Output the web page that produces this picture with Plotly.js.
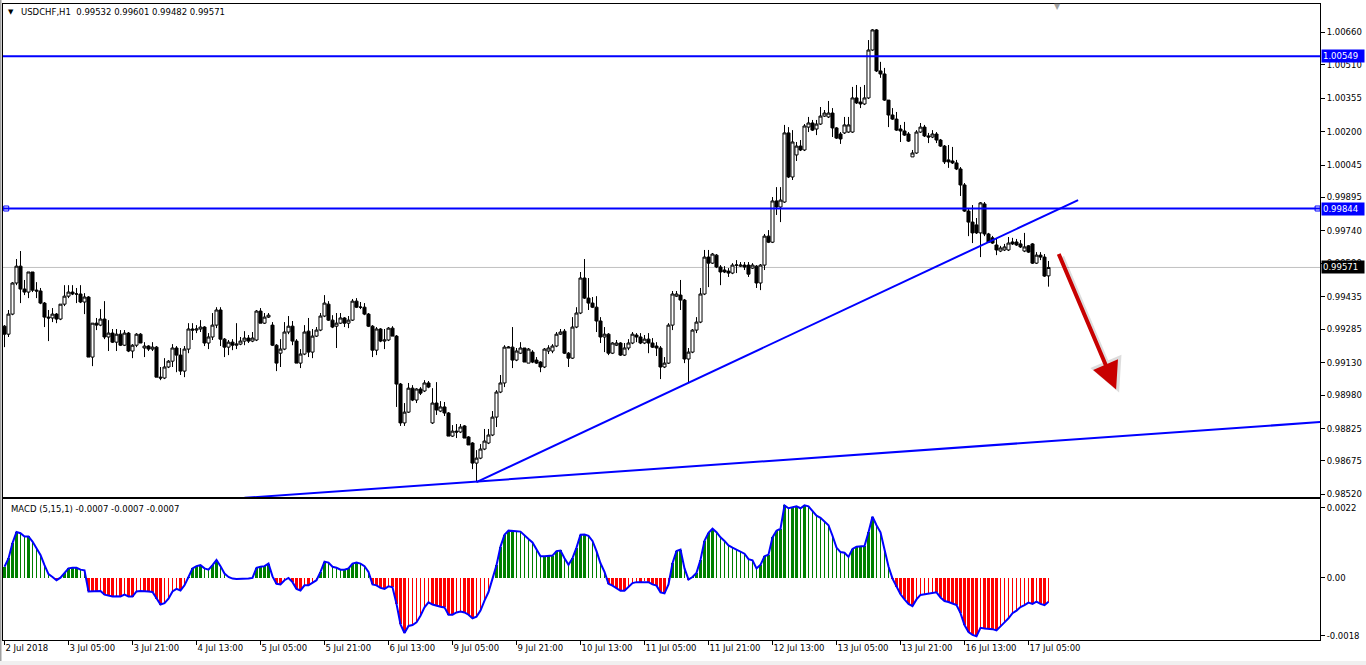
<!DOCTYPE html>
<html><head><meta charset="utf-8">
<script src="https://cdn.plot.ly/plotly-3.0.1.min.js"></script>
<style>html,body{margin:0;padding:0;background:#fff;overflow:hidden}#chart{width:1366px;height:665px}</style>
</head><body><div id="chart"></div>
<script>
// ---------------- DATA ----------------
const symbol = 'USDCHF,H1';
const tickBars = [0,16,32,48,64,80,96,112,128,144,160,176,192,208,224,240,256];
const tickLabels = ['2 Jul 2018','3 Jul 05:00','3 Jul 21:00','4 Jul 13:00','5 Jul 05:00','5 Jul 21:00','6 Jul 13:00','9 Jul 05:00','9 Jul 21:00','10 Jul 13:00','11 Jul 05:00','11 Jul 21:00','12 Jul 13:00','13 Jul 05:00','13 Jul 21:00','16 Jul 13:00','17 Jul 05:00'];
const priceTicks = [1.00660,1.00510,1.00355,1.00200,1.00045,0.99895,0.99740,0.99590,0.99435,0.99285,0.99130,0.98980,0.98825,0.98675,0.98520];
const macdTicks = [0.0022, 0, -0.0018];
const macdTickText = ['0.0022','0.00','-0.0018'];

const open = [
0.99299,0.99262,0.99355,0.99499,0.99577,0.99471,0.99457,0.99550,0.99466,0.99462,
0.99406,0.99341,0.99337,0.99355,0.99332,0.99401,0.99438,0.99457,0.99448,0.99448,
0.99411,0.99434,0.99156,0.99313,0.99304,0.99332,0.99249,0.99267,0.99225,0.99262,
0.99211,0.99267,0.99184,0.99211,0.99262,0.99198,0.99207,0.99193,0.99202,0.99063,
0.99059,0.99110,0.99137,0.99198,0.99165,0.99091,0.99193,0.99286,0.99281,0.99286,
0.99295,0.99221,0.99249,0.99304,0.99374,0.99239,0.99202,0.99225,0.99211,0.99216,
0.99230,0.99244,0.99230,0.99235,0.99369,0.99313,0.99341,0.99304,0.99211,0.99174,
0.99193,0.99272,0.99299,0.99230,0.99128,0.99170,0.99276,0.99179,0.99253,0.99281,
0.99346,0.99401,0.99327,0.99299,0.99313,0.99337,0.99313,0.99327,0.99415,0.99387,
0.99387,0.99355,0.99299,0.99188,0.99286,0.99230,0.99235,0.99290,0.99253,0.99031,
0.98851,0.98901,0.99012,0.98957,0.99008,0.98999,0.99036,0.98851,0.98943,0.98906,
0.98925,0.98897,0.98790,0.98813,0.98809,0.98837,0.98786,0.98758,0.98665,0.98688,
0.98730,0.98758,0.98795,0.98878,0.98994,0.99036,0.99198,0.99202,0.99142,0.99174,
0.99198,0.99128,0.99179,0.99142,0.99133,0.99110,0.99184,0.99184,0.99207,0.99262,
0.99276,0.99174,0.99151,0.99295,0.99360,0.99522,0.99429,0.99406,0.99387,0.99323,
0.99249,0.99262,0.99174,0.99211,0.99221,0.99165,0.99198,0.99221,0.99258,0.99249,
0.99221,0.99239,0.99221,0.99207,0.99198,0.99110,0.99128,0.99304,0.99438,0.99443,
0.99420,0.99147,0.99179,0.99281,0.99318,0.99448,0.99619,0.99591,0.99628,0.99573,
0.99559,0.99554,0.99545,0.99582,0.99577,0.99582,0.99582,0.99568,0.99577,0.99499,
0.99582,0.99716,0.99688,0.99879,0.99851,0.99874,1.00194,0.99990,1.00092,1.00133,
1.00115,1.00221,1.00240,1.00212,1.00235,1.00272,1.00268,1.00286,1.00217,1.00189,
1.00194,1.00198,1.00198,1.00356,1.00337,1.00328,1.00356,1.00578,1.00671,1.00481,
1.00467,1.00346,1.00277,1.00258,1.00212,1.00203,1.00189,1.00083,1.00101,1.00198,
1.00221,1.00180,1.00175,1.00189,1.00161,1.00133,1.00069,1.00064,1.00055,1.00027,
0.99953,0.99832,0.99781,0.99768,0.99731,0.99865,0.99726,0.99708,0.99675,0.99647,
0.99652,0.99652,0.99689,0.99689,0.99680,0.99647,0.99671,0.99680,0.99591,0.99628,
0.99619,0.99532];
const high = [
0.99304,0.99374,0.99503,0.99610,0.99647,0.99513,0.99550,0.99550,0.99503,0.99476,
0.99411,0.99374,0.99383,0.99360,0.99401,0.99489,0.99489,0.99489,0.99476,0.99489,
0.99452,0.99438,0.99313,0.99337,0.99378,0.99415,0.99327,0.99286,0.99286,0.99281,
0.99281,0.99272,0.99216,0.99267,0.99267,0.99225,0.99211,0.99225,0.99207,0.99110,
0.99151,0.99142,0.99216,0.99207,0.99198,0.99207,0.99313,0.99313,0.99304,0.99327,
0.99299,0.99267,0.99360,0.99387,0.99387,0.99244,0.99235,0.99239,0.99313,0.99249,
0.99276,0.99258,0.99272,0.99374,0.99383,0.99360,0.99360,0.99318,0.99216,0.99239,
0.99318,0.99346,0.99323,0.99239,0.99193,0.99304,0.99337,0.99286,0.99295,0.99360,
0.99443,0.99415,0.99350,0.99360,0.99360,0.99341,0.99346,0.99425,0.99429,0.99411,
0.99406,0.99360,0.99304,0.99295,0.99290,0.99286,0.99295,0.99299,0.99258,0.99036,
0.98943,0.99036,0.99026,0.99012,0.99017,0.99049,0.99045,0.99012,0.99040,0.98952,
0.98948,0.98901,0.98841,0.98846,0.98846,0.98841,0.98790,0.98762,0.98725,0.98753,
0.98823,0.98823,0.98906,0.99003,0.99073,0.99211,0.99207,0.99295,0.99198,0.99225,
0.99198,0.99198,0.99188,0.99156,0.99137,0.99198,0.99211,0.99216,0.99272,0.99286,
0.99286,0.99179,0.99341,0.99387,0.99550,0.99610,0.99522,0.99434,0.99438,0.99341,
0.99295,0.99267,0.99225,0.99235,0.99225,0.99221,0.99239,0.99272,0.99267,0.99267,
0.99258,0.99267,0.99244,0.99225,0.99207,0.99156,0.99313,0.99462,0.99462,0.99513,
0.99425,0.99198,0.99286,0.99341,0.99476,0.99652,0.99652,0.99638,0.99633,0.99582,
0.99577,0.99568,0.99591,0.99605,0.99596,0.99596,0.99596,0.99591,0.99582,0.99587,
0.99726,0.99744,0.99897,0.99943,0.99943,1.00231,1.00221,1.00207,1.00152,1.00161,
1.00235,1.00268,1.00254,1.00254,1.00314,1.00300,1.00342,1.00309,1.00221,1.00198,
1.00268,1.00268,1.00407,1.00416,1.00407,1.00416,1.00624,1.00675,1.00675,1.00523,
1.00495,1.00346,1.00309,1.00291,1.00231,1.00245,1.00198,1.00115,1.00207,1.00240,
1.00231,1.00194,1.00207,1.00198,1.00166,1.00138,1.00138,1.00129,1.00069,1.00036,
0.99962,0.99846,0.99860,0.99800,0.99874,0.99874,0.99731,0.99717,0.99703,0.99671,
0.99680,0.99712,0.99708,0.99703,0.99698,0.99731,0.99675,0.99684,0.99642,0.99642,
0.99633,0.99601];
const low = [
0.99202,0.99249,0.99350,0.99489,0.99406,0.99443,0.99429,0.99457,0.99429,0.99401,
0.99295,0.99230,0.99318,0.99313,0.99327,0.99392,0.99429,0.99443,0.99406,0.99406,
0.99355,0.99156,0.99114,0.99281,0.99299,0.99239,0.99184,0.99221,0.99184,0.99207,
0.99207,0.99179,0.99151,0.99202,0.99221,0.99156,0.99184,0.99184,0.99063,0.99049,
0.99054,0.99105,0.99110,0.99086,0.99073,0.99063,0.99174,0.99235,0.99267,0.99272,
0.99207,0.99193,0.99235,0.99290,0.99207,0.99156,0.99165,0.99188,0.99193,0.99211,
0.99211,0.99221,0.99225,0.99230,0.99313,0.99309,0.99337,0.99207,0.99091,0.99110,
0.99188,0.99262,0.99211,0.99128,0.99105,0.99165,0.99156,0.99151,0.99249,0.99276,
0.99341,0.99323,0.99290,0.99198,0.99309,0.99295,0.99290,0.99323,0.99383,0.99378,
0.99350,0.99295,0.99156,0.99165,0.99225,0.99193,0.99230,0.99253,0.98925,0.98837,
0.98837,0.98897,0.98952,0.98943,0.98980,0.98994,0.99012,0.98846,0.98888,0.98901,
0.98883,0.98790,0.98786,0.98781,0.98804,0.98781,0.98749,0.98637,0.98577,0.98683,
0.98725,0.98753,0.98790,0.98832,0.98989,0.99017,0.99198,0.99105,0.99137,0.99170,
0.99133,0.99128,0.99128,0.99124,0.99086,0.99105,0.99170,0.99174,0.99202,0.99258,
0.99170,0.99110,0.99147,0.99290,0.99355,0.99425,0.99374,0.99383,0.99272,0.99221,
0.99179,0.99165,0.99170,0.99207,0.99161,0.99161,0.99188,0.99216,0.99225,0.99216,
0.99216,0.99174,0.99198,0.99161,0.99054,0.99105,0.99124,0.99281,0.99434,0.99374,
0.99128,0.99036,0.99174,0.99267,0.99313,0.99443,0.99480,0.99587,0.99568,0.99489,
0.99545,0.99527,0.99540,0.99545,0.99573,0.99559,0.99527,0.99564,0.99476,0.99466,
0.99559,0.99684,0.99684,0.99814,0.99781,0.99870,0.99985,0.99976,1.00064,1.00110,
1.00110,1.00198,1.00203,1.00184,1.00231,1.00268,1.00263,1.00175,1.00166,1.00143,
1.00189,1.00194,1.00194,1.00328,1.00309,1.00323,1.00351,1.00574,1.00476,1.00449,
1.00342,1.00221,1.00254,1.00203,1.00152,1.00180,1.00152,1.00083,1.00097,1.00194,
1.00175,1.00147,1.00170,1.00147,1.00129,1.00050,1.00032,1.00050,1.00022,0.99902,
0.99828,0.99716,0.99684,0.99726,0.99619,0.99716,0.99684,0.99680,0.99628,0.99642,
0.99647,0.99647,0.99675,0.99671,0.99661,0.99642,0.99638,0.99587,0.99587,0.99605,
0.99527,0.99482];
const close = [
0.99262,0.99355,0.99499,0.99577,0.99471,0.99457,0.99550,0.99466,0.99462,0.99406,
0.99341,0.99337,0.99355,0.99332,0.99401,0.99438,0.99457,0.99448,0.99448,0.99411,
0.99434,0.99156,0.99313,0.99304,0.99332,0.99249,0.99267,0.99225,0.99262,0.99211,
0.99267,0.99184,0.99211,0.99262,0.99221,0.99207,0.99193,0.99202,0.99063,0.99059,
0.99110,0.99137,0.99198,0.99165,0.99091,0.99193,0.99286,0.99281,0.99286,0.99295,
0.99221,0.99249,0.99304,0.99374,0.99239,0.99202,0.99225,0.99211,0.99216,0.99230,
0.99244,0.99230,0.99244,0.99369,0.99313,0.99341,0.99350,0.99211,0.99128,0.99193,
0.99272,0.99299,0.99230,0.99128,0.99170,0.99272,0.99179,0.99253,0.99281,0.99346,
0.99406,0.99327,0.99295,0.99313,0.99337,0.99313,0.99327,0.99415,0.99387,0.99387,
0.99355,0.99299,0.99188,0.99286,0.99230,0.99235,0.99290,0.99253,0.99031,0.98851,
0.98901,0.99012,0.98957,0.99008,0.98989,0.99036,0.99017,0.98943,0.98911,0.98925,
0.98897,0.98790,0.98813,0.98809,0.98832,0.98781,0.98749,0.98665,0.98688,0.98730,
0.98767,0.98795,0.98878,0.98994,0.99036,0.99202,0.99202,0.99142,0.99184,0.99198,
0.99133,0.99193,0.99133,0.99128,0.99110,0.99193,0.99198,0.99207,0.99262,0.99272,
0.99174,0.99151,0.99295,0.99360,0.99522,0.99429,0.99406,0.99387,0.99323,0.99249,
0.99262,0.99174,0.99221,0.99221,0.99165,0.99198,0.99221,0.99262,0.99249,0.99221,
0.99239,0.99221,0.99202,0.99198,0.99110,0.99128,0.99304,0.99448,0.99448,0.99420,
0.99147,0.99179,0.99281,0.99318,0.99448,0.99619,0.99591,0.99633,0.99573,0.99550,
0.99550,0.99545,0.99582,0.99582,0.99582,0.99573,0.99540,0.99582,0.99499,0.99582,
0.99716,0.99688,0.99879,0.99851,0.99883,1.00194,0.99990,1.00152,1.00133,1.00115,
1.00226,1.00240,1.00207,1.00235,1.00272,1.00286,1.00286,1.00217,1.00170,1.00166,
1.00231,1.00231,1.00356,1.00333,1.00328,1.00356,1.00578,1.00671,1.00481,1.00467,
1.00346,1.00277,1.00258,1.00207,1.00203,1.00184,1.00156,1.00101,1.00198,1.00221,
1.00180,1.00175,1.00189,1.00161,1.00133,1.00060,1.00060,1.00055,1.00027,0.99953,
0.99832,0.99781,0.99731,0.99731,0.99870,0.99726,0.99688,0.99684,0.99652,0.99661,
0.99666,0.99684,0.99680,0.99675,0.99666,0.99666,0.99642,0.99591,0.99628,0.99619,
0.99531,0.99571];
const macd = [
0.00035,0.00061,0.00109,0.00144,0.00140,0.00130,0.00130,0.00114,0.00093,0.00072,
0.00040,0.00012,0.00003,-0.00007,0.00001,0.00016,0.00030,0.00032,0.00032,0.00026,
0.00024,-0.00042,-0.00042,-0.00042,-0.00041,-0.00052,-0.00055,-0.00058,-0.00057,-0.00058,
-0.00052,-0.00058,-0.00058,-0.00042,-0.00041,-0.00041,-0.00042,-0.00044,-0.00065,-0.00083,
-0.00079,-0.00065,-0.00042,-0.00034,-0.00039,-0.00023,0.00003,0.00030,0.00037,0.00040,
0.00030,0.00026,0.00040,0.00056,0.00037,0.00014,0.00003,-0.00002,-0.00003,-0.00003,
-0.00003,-0.00002,0.00000,0.00032,0.00035,0.00037,0.00045,0.00005,-0.00018,-0.00020,
-0.00007,0.00000,-0.00013,-0.00034,-0.00039,-0.00023,-0.00023,-0.00016,-0.00007,0.00019,
0.00051,0.00048,0.00035,0.00032,0.00026,0.00026,0.00030,0.00045,0.00048,0.00045,
0.00037,0.00019,-0.00020,-0.00023,-0.00031,-0.00034,-0.00026,-0.00029,-0.00081,-0.00145,
-0.00172,-0.00150,-0.00147,-0.00139,-0.00118,-0.00092,-0.00076,-0.00083,-0.00087,-0.00090,
-0.00092,-0.00115,-0.00115,-0.00108,-0.00105,-0.00108,-0.00115,-0.00126,-0.00121,-0.00102,
-0.00071,-0.00044,-0.00002,0.00040,0.00098,0.00135,0.00148,0.00148,0.00146,0.00145,
0.00132,0.00122,0.00111,0.00089,0.00068,0.00068,0.00068,0.00070,0.00084,0.00086,
0.00062,0.00041,0.00062,0.00095,0.00135,0.00136,0.00132,0.00116,0.00084,0.00046,
0.00019,-0.00018,-0.00024,-0.00031,-0.00040,-0.00040,-0.00029,-0.00016,-0.00013,-0.00013,
-0.00011,-0.00013,-0.00020,-0.00024,-0.00045,-0.00048,-0.00020,0.00046,0.00084,0.00089,
0.00030,-0.00005,0.00003,0.00016,0.00057,0.00116,0.00141,0.00154,0.00143,0.00127,
0.00116,0.00102,0.00095,0.00089,0.00084,0.00076,0.00059,0.00055,0.00030,0.00041,
0.00068,0.00073,0.00127,0.00148,0.00154,0.00227,0.00218,0.00221,0.00224,0.00218,
0.00227,0.00224,0.00210,0.00195,0.00188,0.00178,0.00165,0.00132,0.00095,0.00081,
0.00079,0.00066,0.00091,0.00098,0.00098,0.00100,0.00143,0.00192,0.00165,0.00143,
0.00089,0.00036,-0.00002,-0.00029,-0.00051,-0.00067,-0.00081,-0.00088,-0.00067,-0.00053,
-0.00051,-0.00048,-0.00045,-0.00045,-0.00061,-0.00072,-0.00075,-0.00081,-0.00085,-0.00110,
-0.00147,-0.00169,-0.00178,-0.00182,-0.00156,-0.00158,-0.00158,-0.00160,-0.00164,-0.00153,
-0.00139,-0.00126,-0.00110,-0.00102,-0.00091,-0.00085,-0.00077,-0.00081,-0.00074,-0.00081,
-0.00085,-0.00074];
const levels = [1.00549, 0.99844];
const trendUpX = [118, 268.4];
const trendUpY = [0.98577, 0.99883];
const trendLowX = [60, 329];
const trendLowY = [0.98504, 0.98855];
const arrowX = [263.4, 277.9];
const arrowY = [0.99640, 0.99006];

// ---------------- LAYOUT HELPERS ----------------
const W = 1366, H = 665, ML = 3, MR = 46, MT = 4, MB = 25;
const PW = W - ML - MR, PH = H - MT - MB;
const pxX = x => (x - ML) / PW;
const pxY = y => (H - MB - y) / PH;
const FONT = 'DejaVu Sans, Verdana, sans-serif';
const n = Math.min(open.length, high.length, low.length, close.length, macd.length);
const idx = Array.from({length: n}, (_, i) => i);
const xRange = [-0.375, 328.875];
const BLUE = '#0000FF';

const barColors = [], barWidths = [];
for (let i = 0; i < n; i++) {
  const v = macd[i], p = i > 0 ? macd[i - 1] : 0;
  if (v >= 0) {
    barColors.push('#008000'); barWidths.push(v >= p ? 0.7 : 0.25);
  } else {
    barColors.push('#FF0000'); barWidths.push(v <= p ? 0.7 : 0.25);
  }
}

const traces = [
  {type: 'candlestick', x: idx, open: open.slice(0, n), high: high.slice(0, n), low: low.slice(0, n), close: close.slice(0, n),
   xaxis: 'x2', yaxis: 'y', whiskerwidth: 0, hoverinfo: 'skip',
   increasing: {line: {color: '#000000', width: 1}, fillcolor: '#FFFFFF'},
   decreasing: {line: {color: '#000000', width: 1}, fillcolor: '#000000'}, showlegend: false},
  {type: 'scatter', mode: 'markers', x: [xRange[0] + 0.8, xRange[1] - 0.6], y: [levels[1], levels[1]],
   marker: {symbol: 'square', size: 5, color: '#FFFFFF', line: {color: BLUE, width: 1}},
   xaxis: 'x2', yaxis: 'y', cliponaxis: false, hoverinfo: 'skip', showlegend: false},
  {type: 'bar', x: idx, y: macd.slice(0, n), width: barWidths, marker: {color: barColors, line: {width: 0}},
   xaxis: 'x', yaxis: 'y2', hoverinfo: 'skip', showlegend: false},
  {type: 'scatter', mode: 'lines', x: idx, y: macd.slice(0, n), line: {color: BLUE, width: 2},
   xaxis: 'x', yaxis: 'y2', hoverinfo: 'skip', showlegend: false}
];

const shapes = [
  {type: 'line', xref: 'x2', yref: 'y', x0: xRange[0], x1: xRange[1], y0: close[n - 1], y1: close[n - 1], line: {color: '#C0C0C0', width: 1}, layer: 'below'},
  {type: 'line', xref: 'x2', yref: 'y', x0: xRange[0], x1: xRange[1], y0: levels[0], y1: levels[0], line: {color: BLUE, width: 2}},
  {type: 'line', xref: 'x2', yref: 'y', x0: xRange[0], x1: xRange[1], y0: levels[1], y1: levels[1], line: {color: BLUE, width: 2}},
  {type: 'line', xref: 'x2', yref: 'y', x0: trendUpX[0], x1: trendUpX[1], y0: trendUpY[0], y1: trendUpY[1], line: {color: BLUE, width: 2}},
  {type: 'line', xref: 'x2', yref: 'y', x0: trendLowX[0], x1: trendLowX[1], y0: trendLowY[0], y1: trendLowY[1], line: {color: BLUE, width: 2}},
  // window frame
  {type: 'rect', xref: 'paper', yref: 'paper', x0: pxX(0), x1: pxX(1.5), y0: pxY(665), y1: pxY(0), line: {width: 0}, fillcolor: '#A0A0A0'},
  {type: 'rect', xref: 'paper', yref: 'paper', x0: pxX(0), x1: pxX(1366), y0: pxY(665), y1: pxY(661), line: {width: 0}, fillcolor: '#F0F0F0'}
];

const fmt5 = v => v.toFixed(5);
const lastI = n - 1;
const annotations = [
  {xref: 'paper', yref: 'paper', x: pxX(10.5), y: pxY(12), text: '▼', showarrow: false, font: {family: FONT, size: 7, color: '#000'}, xanchor: 'center', yanchor: 'middle'},
  {xref: 'paper', yref: 'paper', x: pxX(19), y: pxY(12), showarrow: false, xanchor: 'left', yanchor: 'middle',
   text: symbol + '\u00A0\u00A0' + [open[lastI], high[lastI], low[lastI], close[lastI]].map(fmt5).join(' '),
   font: {family: FONT, size: 8.5, color: '#000'}},
  {xref: 'paper', yref: 'paper', x: pxX(9), y: pxY(509), showarrow: false, xanchor: 'left', yanchor: 'middle',
   text: 'MACD (5,15,1) ' + [macd[lastI], macd[lastI], macd[lastI]].map(v => v.toFixed(4)).join(' '),
   font: {family: FONT, size: 8.5, color: '#000'}},
  {xref: 'paper', yref: 'paper', x: pxX(1057), y: pxY(6), text: '▼', showarrow: false, font: {family: FONT, size: 8, color: '#A0A0A0'}, xanchor: 'center', yanchor: 'middle'},
  // arrow shadow + arrow
  {xref: 'x2', yref: 'y', axref: 'x2', ayref: 'y', x: arrowX[1], y: arrowY[1], ax: arrowX[0], ay: arrowY[0], text: '', showarrow: true,
   arrowhead: 2, arrowsize: 1.35, arrowwidth: 5, arrowcolor: 'rgba(0,0,0,0.13)', xshift: 3, yshift: -3, standoff: 0, startstandoff: 0},
  {xref: 'x2', yref: 'y', axref: 'x2', ayref: 'y', x: arrowX[1], y: arrowY[1], ax: arrowX[0], ay: arrowY[0], text: '', showarrow: true,
   arrowhead: 2, arrowsize: 1.35, arrowwidth: 4, arrowcolor: '#C80000', standoff: 0, startstandoff: 0}
];
// price boxes on the right axis
const boxes = [[levels[0], BLUE], [levels[1], BLUE], [close[lastI], '#000000']];
boxes.forEach(([v, c]) => annotations.push({
  xref: 'paper', yref: 'y', x: 1, y: v, xanchor: 'left', yanchor: 'middle', xshift: 1, showarrow: false,
  text: fmt5(v), bgcolor: c, borderpad: 1, width: 40, height: 10, align: 'left',
  font: {family: FONT, size: 8.5, color: '#FFFFFF'}
}));

const axisFont = {family: FONT, size: 8.5, color: '#000'};
const layout = {
  width: W, height: H,
  margin: {l: ML, r: MR, t: MT, b: MB, pad: 0},
  paper_bgcolor: '#FFFFFF', plot_bgcolor: '#FFFFFF',
  showlegend: false, hovermode: false, dragmode: false,
  boxgap: 0.2, boxgroupgap: 0.05, bargap: 0,
  xaxis: {type: 'linear', range: xRange, anchor: 'y2', rangeslider: {visible: false},
    tickmode: 'array', tickvals: tickBars, ticktext: tickLabels, ticks: 'outside', ticklen: 4, tickcolor: '#000',
    ticklabelposition: 'outside right', tickfont: axisFont,
    showline: true, linecolor: '#000', linewidth: 1, mirror: true, showgrid: false, zeroline: false, fixedrange: true},
  xaxis2: {type: 'linear', range: xRange, anchor: 'y', matches: 'x', rangeslider: {visible: false},
    showticklabels: false, ticks: '', showline: true, linecolor: '#000', linewidth: 1, mirror: true,
    showgrid: false, zeroline: false, fixedrange: true},
  yaxis: {domain: [pxY(497), 1], range: [0.98508, 1.00791], side: 'right', anchor: 'x2',
    tickmode: 'array', tickvals: priceTicks, ticktext: priceTicks.map(fmt5), ticks: 'outside', ticklen: 4, tickcolor: '#000',
    tickfont: axisFont, showline: true, linecolor: '#000', linewidth: 1, mirror: true, showgrid: false, zeroline: false, fixedrange: true},
  yaxis2: {domain: [0, pxY(499)], range: [-0.00194, 0.00247], side: 'right', anchor: 'x',
    tickmode: 'array', tickvals: macdTicks, ticktext: macdTickText, ticks: 'outside', ticklen: 4, tickcolor: '#000',
    tickfont: axisFont, showline: true, linecolor: '#000', linewidth: 1, mirror: true, showgrid: false, zeroline: false, fixedrange: true},
  shapes: shapes,
  annotations: annotations
};

Plotly.newPlot('chart', traces, layout, {staticPlot: true, displayModeBar: false});
</script>
</body></html>
